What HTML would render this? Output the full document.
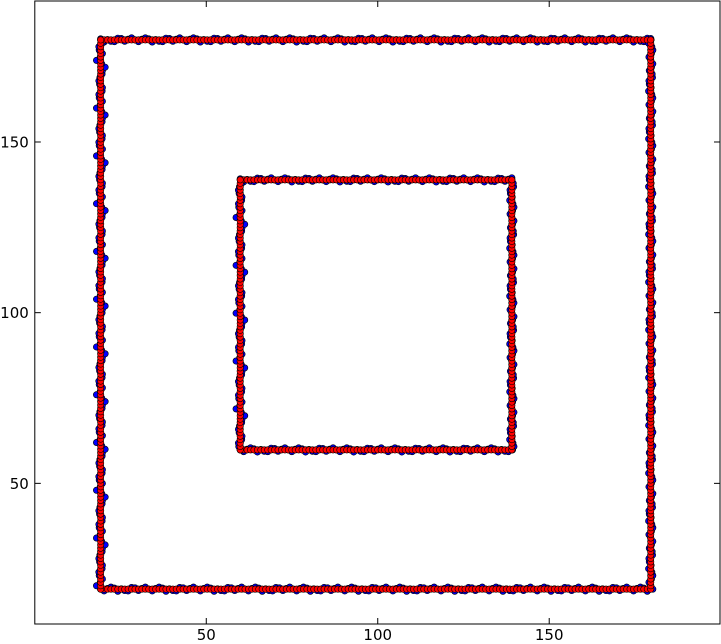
<!DOCTYPE html>
<html><head><meta charset="utf-8"><style>
html,body{margin:0;padding:0;background:#fff;}
svg{display:block;font-family:"DejaVu Sans","Liberation Sans",sans-serif;}
</style></head><body>
<svg id="chart" width="721" height="644"></svg>
<script>
// Data: square outlines (x0, y0, x1, y1) in data units
const squareX0 = [19.2, 59.9];
const squareY0 = [19.0, 59.8];
const squareX1 = [179.6, 139.1];
const squareY1 = [179.9, 138.9];
// perpendicular jitter of blue (noisy) samples
const blueJitter = [0,0.4,-0.5,0.5,0.2,-0.3,0.6,-0.5,0.3,-0.2,-0.6,0.4,0.1,0.5,-0.4,1.3,-0.5,0.3,0.5,-1.2,0.4,-0.1,-0.4,0.5,0.2,-0.4,0.6,-0.5];
const xTicks = [50, 100, 150];
const yTicks = [50, 100, 150];
const xMin = 0, xMax = 199.8, yMin = 8.8, yMax = 191.3;

const NS = "http://www.w3.org/2000/svg";
const svg = document.getElementById("chart");
const L = 34.8, R = 720, T = 1, B = 624;
const sx = v => L + (v - xMin) / (xMax - xMin) * (R - L);
const sy = v => B - (v - yMin) / (yMax - yMin) * (B - T);
function el(tag, attrs) { const e = document.createElementNS(NS, tag); for (const k in attrs) e.setAttribute(k, attrs[k]); svg.appendChild(e); return e; }

function edgePoints(i, noisy) {
  const pts = []; let j = 0;
  const x0 = squareX0[i], y0 = squareY0[i], x1 = squareX1[i], y1 = squareY1[i];
  const nx = Math.round(x1 - x0), ny = Math.round(y1 - y0);
  for (let k = 0; k <= nx; k++) {
    const v = x0 + (x1 - x0) * k / nx;
    const n1 = noisy ? blueJitter[(j++) % blueJitter.length] : 0;
    const n2 = noisy ? blueJitter[(j++ + 7) % blueJitter.length] : 0;
    pts.push([v, y0 + n1]); pts.push([v, y1 + n2]);
  }
  for (let k = 0; k <= ny; k++) {
    const v = y0 + (y1 - y0) * k / ny;
    const n1 = noisy ? blueJitter[(j++ + 3) % blueJitter.length] : 0;
    const n2 = noisy ? blueJitter[(j++ + 11) % blueJitter.length] : 0;
    pts.push([x0 + n1, v]); pts.push([x1 + n2, v]);
  }
  return pts;
}

const gBlue = el("g", {});


const gRed = el("g", {});


for (let i = 0; i < squareX0.length; i++) {
  for (const p of edgePoints(i, true)) {
    const c = document.createElementNS(NS, "circle");
    c.setAttribute("cx", sx(p[0])); c.setAttribute("cy", sy(p[1])); c.setAttribute("r", 3.2);
    c.setAttribute("fill", "#0000ff"); c.setAttribute("stroke", "#000"); c.setAttribute("stroke-width", 0.6);
    
    
    gBlue.appendChild(c);
  }
  for (const p of edgePoints(i, false)) {
    const c = document.createElementNS(NS, "circle");
    c.setAttribute("cx", sx(p[0])); c.setAttribute("cy", sy(p[1])); c.setAttribute("r", 3.2);
    c.setAttribute("fill", "#ff0000"); c.setAttribute("stroke", "#000"); c.setAttribute("stroke-width", 0.6);
    
    
    gRed.appendChild(c);
  }
}

const frame = el("rect", {x: L, y: T, width: R - L, height: B - T, fill: "none", stroke: "#000", "stroke-width": 1});



xTicks.forEach(t => {
  const x = sx(t);
  el("line", {x1: x, x2: x, y1: B, y2: B - 6, stroke: "#000"});
  el("line", {x1: x, x2: x, y1: T, y2: T + 6, stroke: "#000"});
  const tx = el("text", {x: x, y: B + 16, "font-size": 15, "text-anchor": "middle"});
  tx.textContent = t;
  
  
});
yTicks.forEach(t => {
  const y = sy(t);
  el("line", {x1: L, x2: L + 6, y1: y, y2: y, stroke: "#000"});
  el("line", {x1: R, x2: R - 6, y1: y, y2: y, stroke: "#000"});
  const tx = el("text", {x: L - 6, y: y + 5.5, "font-size": 15, "text-anchor": "end"});
  tx.textContent = t;
  
  
});
</script>
</body></html>
